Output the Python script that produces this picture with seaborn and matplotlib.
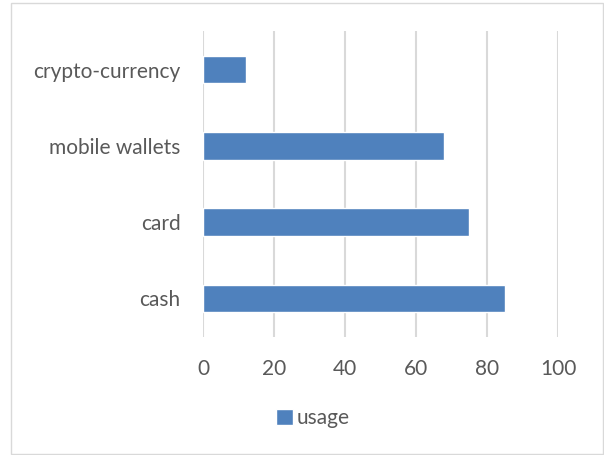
import matplotlib
matplotlib.use("Agg")
import matplotlib.pyplot as plt
import seaborn as sns
import pandas as pd
from matplotlib.patches import Rectangle, Patch

categories = ["crypto-currency", "mobile wallets", "card", "cash"]
usage = [12, 68, 75, 85]
xticks = [0, 20, 40, 60, 80, 100]
series_name = "usage"

df = pd.DataFrame({"category": categories, "usage": usage})

sns.set_theme(style="white")
plt.rcParams['font.family'] = ['Lato', 'DejaVu Sans']

fig = plt.figure(figsize=(6.04, 4.55), dpi=100)
ax = fig.add_axes([0.336, 0.2604, 0.588, 0.6706])

sns.barplot(data=df, y="category", x="usage", orient="h", color="#4f81bd",
            width=0.36, saturation=1, ax=ax, order=categories)

ax.set_xlim(0, 100)
ax.set_xticks(xticks)
ax.set_xticklabels([str(t) for t in xticks])
ax.set_ylim(3.5, -0.5)
ax.set_xlabel("")
ax.set_ylabel("")
for s in ax.spines.values():
    s.set_visible(False)
ax.grid(axis="x", color="#d9d9d9", linewidth=1.5)
ax.set_axisbelow(True)
ax.tick_params(axis="both", length=0, labelsize=15, labelcolor="#595959")
ax.tick_params(axis="x", pad=16)
ax.tick_params(axis="y", pad=16)

leg = fig.legend(handles=[Patch(facecolor="#4f81bd", label=series_name)],
                 loc="center", bbox_to_anchor=(0.518, 1 - 418 / 455), frameon=False,
                 fontsize=15, handlelength=0.8, handleheight=0.8, handletextpad=0.15)
for t in leg.get_texts():
    t.set_color("#595959")

fig.add_artist(Rectangle((11 / 604, 1 / 455), 592 / 604, 451 / 455, transform=fig.transFigure,
                         fill=False, edgecolor="#d9d9d9", linewidth=1))

fig.savefig("out.png", dpi=100)
